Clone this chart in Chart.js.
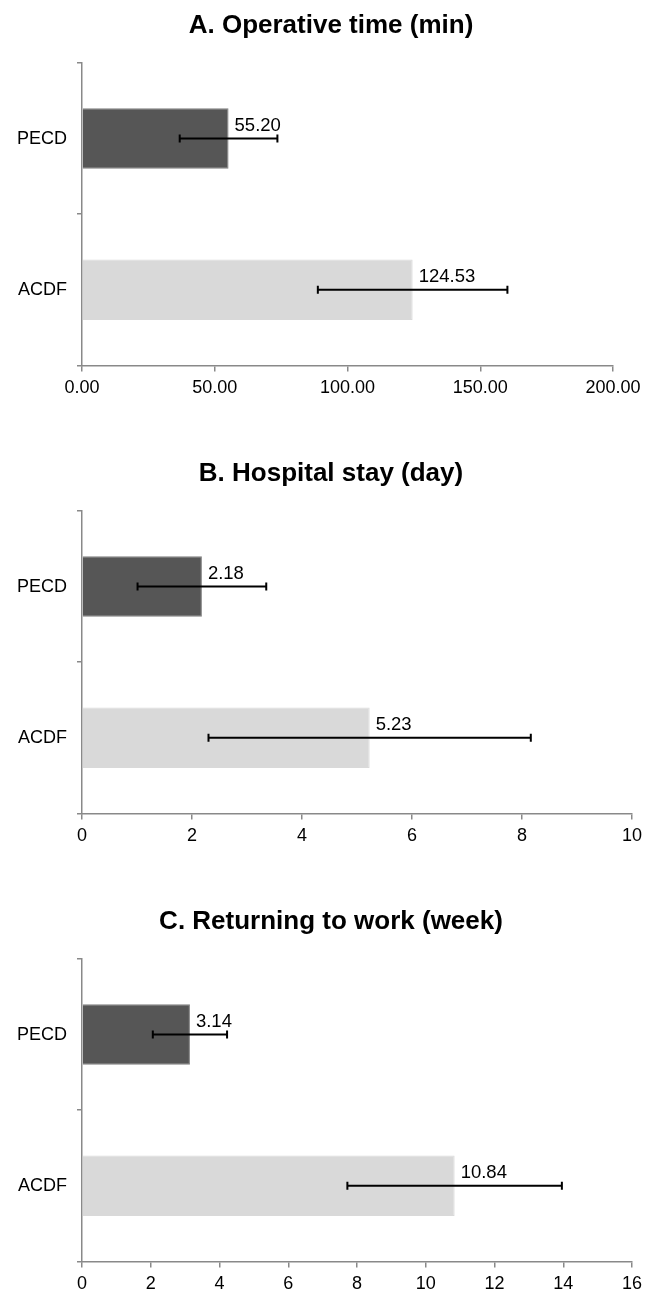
<!DOCTYPE html>
<html>
<head>
<meta charset="utf-8">
<script src="https://cdn.jsdelivr.net/npm/chart.js@4.4.0/dist/chart.umd.min.js"></script>
<style>
  html, body { margin: 0; padding: 0; background: #fff; overflow: hidden; }
  .wrap { position: absolute; left: 0; width: 650px; }
  canvas { display: block; }
</style>
</head>
<body>
<div class="wrap" style="top:0px;height:448px"><canvas id="cA" width="650" height="448"></canvas></div>
<div class="wrap" style="top:448px;height:448px"><canvas id="cB" width="650" height="448"></canvas></div>
<div class="wrap" style="top:896px;height:412px"><canvas id="cC" width="650" height="412"></canvas></div>
<script>
// ---- data ----
const categories = ['PECD', 'ACDF'];

const opTitle = 'A. Operative time (min)';
const opMeans = [55.20, 124.53];
const opSD = [18.4, 35.7];
const opTicks = [0, 50, 100, 150, 200];

const stayTitle = 'B. Hospital stay (day)';
const stayMeans = [2.18, 5.23];
const staySD = [1.17, 2.93];
const stayTicks = [0, 2, 4, 6, 8, 10];

const rtwTitle = 'C. Returning to work (week)';
const rtwMeans = [3.14, 10.84];
const rtwSD = [1.08, 3.12];
const rtwTicks = [0, 2, 4, 6, 8, 10, 12, 14, 16];

// ---- styling ----
const FONT = '"Liberation Sans", Arial, sans-serif';
const AXIS = '#898989';
const barFill = ['#565656', '#d9d9d9'];
const barEdge = ['#808080', '#d9d9d9'];

const errPlugin = {
  id: 'errbars',
  afterDatasetsDraw(chart, args, opts) {
    const ctx = chart.ctx;
    const xs = chart.scales.x;
    const meta = chart.getDatasetMeta(0);
    const vals = chart.data.datasets[0].data;
    ctx.save();
    meta.data.forEach((bar, i) => {
      const m = vals[i], s = opts.sd[i];
      const x1 = xs.getPixelForValue(m - s);
      const x2 = xs.getPixelForValue(m + s);
      const y = bar.y;
      ctx.strokeStyle = '#000';
      ctx.lineWidth = 2;
      ctx.beginPath();
      ctx.moveTo(x1, y); ctx.lineTo(x2, y);
      ctx.moveTo(x1, y - 4); ctx.lineTo(x1, y + 4);
      ctx.moveTo(x2, y - 4); ctx.lineTo(x2, y + 4);
      ctx.stroke();
      ctx.fillStyle = '#000';
      ctx.font = '18.5px ' + FONT;
      ctx.textAlign = 'left';
      ctx.textBaseline = 'middle';
      ctx.fillText(m.toFixed(2), bar.x + 6, y - 13);
    });
    ctx.restore();
  }
};

const PAD_L = 15, PAD_R = 3, CANVAS_W = 650;

function makeChart(id, title, means, sd, ticks, decimals, plotRight, padB) {
  const step = ticks[1] - ticks[0];
  const overhangR = CANVAS_W - PAD_R - plotRight;
  return new Chart(document.getElementById(id), {
    type: 'bar',
    data: {
      labels: categories,
      datasets: [{
        data: means,
        backgroundColor: barFill,
        borderColor: barEdge,
        borderWidth: 1,
        categoryPercentage: 1.0,
        barPercentage: 0.4
      }]
    },
    options: {
      indexAxis: 'y',
      responsive: false,
      animation: false,
      events: [],
      layout: { padding: { left: PAD_L, right: PAD_R, top: 0, bottom: padB } },
      plugins: {
        legend: { display: false },
        tooltip: { enabled: false },
        title: {
          display: true,
          text: title,
          color: '#000',
          font: { family: FONT, size: 26, weight: 'bold', lineHeight: 1.2 },
          padding: { top: 10, bottom: 21.8 }
        },
        errbars: { sd: sd }
      },
      scales: {
        x: {
          min: ticks[0],
          max: ticks[ticks.length - 1],
          ticks: {
            stepSize: step,
            color: '#000',
            padding: 6,
            maxRotation: 0,
            autoSkip: false,
            font: { family: FONT, size: 18 },
            callback: (v) => Number(v).toFixed(decimals)
          },
          grid: { drawOnChartArea: false, drawTicks: true, tickLength: 6, color: AXIS, lineWidth: 1.5 },
          border: { color: AXIS, width: 1.5 },
          afterFit: (scale) => { scale.paddingRight = overhangR; }
        },
        y: {
          ticks: {
            color: '#000',
            padding: 10,
            font: { family: FONT, size: 18 }
          },
          grid: { drawOnChartArea: false, drawTicks: true, tickLength: 5, offset: true, color: AXIS, lineWidth: 1.5 },
          border: { color: AXIS, width: 1.5 },
          afterFit: (scale) => { scale.width = 82 - PAD_L; }
        }
      }
    },
    plugins: [errPlugin]
  });
}

makeChart('cA', opTitle, opMeans, opSD, opTicks, 2, 610, 43);
makeChart('cB', stayTitle, stayMeans, staySD, stayTicks, 0, 629, 43);
makeChart('cC', rtwTitle, rtwMeans, rtwSD, rtwTicks, 0, 629, 7);
</script>
</body>
</html>
